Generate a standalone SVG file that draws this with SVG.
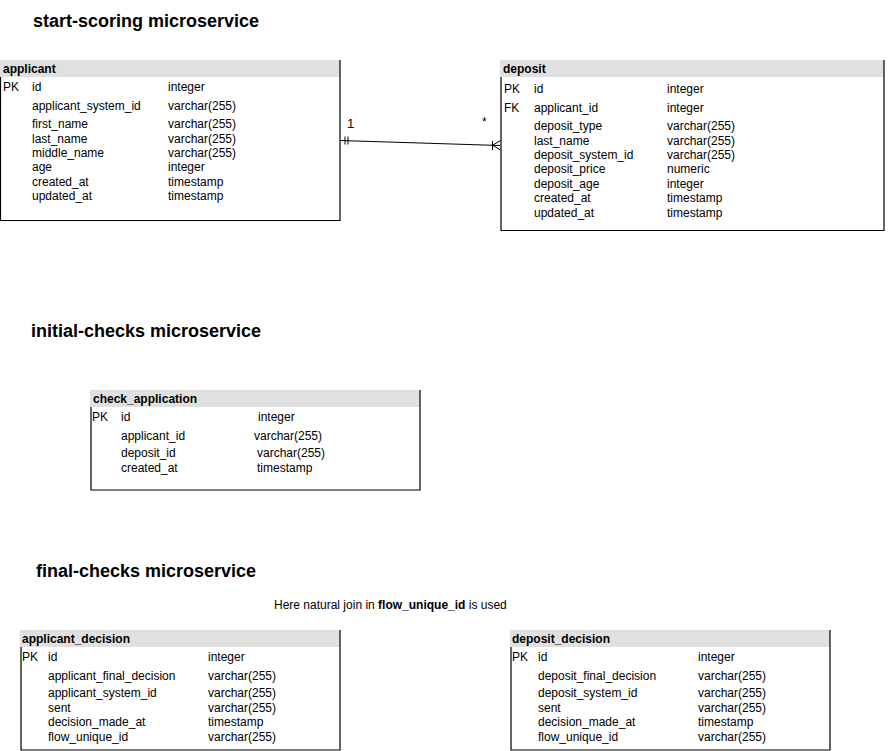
<svg xmlns="http://www.w3.org/2000/svg" width="891" height="751" viewBox="0 0 891 751">
<style>
text{font-family:"Liberation Sans",Arial,sans-serif;font-size:12px;fill:#000}
.t{font-weight:bold;font-size:18px}
.h{font-weight:bold}
.hd{fill:#e0e0e0;stroke:none}
.bd{fill:none;stroke:#000;stroke-width:1.2}
.ln{fill:none;stroke:#000;stroke-width:1}
</style>
<rect width="891" height="751" fill="#fff"/>
<text class="t" x="33" y="27">start-scoring microservice</text>
<text class="t" x="31" y="337">initial-checks microservice</text>
<text class="t" x="36" y="577">final-checks microservice</text>
<text x="274" y="609">Here natural join in <tspan class="h">flow_unique_id</tspan> is used</text>

<g id="applicant">
<rect class="hd" x="0" y="60" width="340" height="17"/>
<path class="bd" d="M0.5 77V220.5H340V60"/>
<text class="h" x="3" y="73">applicant</text>
<text x="3" y="91">PK</text><text x="32" y="91">id</text><text x="168" y="91">integer</text>
<text x="32" y="110">applicant_system_id</text><text x="168" y="110">varchar(255)</text>
<text x="32" y="128">first_name</text><text x="168" y="128">varchar(255)</text>
<text x="32" y="143">last_name</text><text x="168" y="143">varchar(255)</text>
<text x="32" y="157">middle_name</text><text x="168" y="157">varchar(255)</text>
<text x="32" y="171">age</text><text x="168" y="171">integer</text>
<text x="32" y="186">created_at</text><text x="168" y="186">timestamp</text>
<text x="32" y="200">updated_at</text><text x="168" y="200">timestamp</text>
</g>

<g id="deposit">
<rect class="hd" x="500" y="60" width="384" height="17"/>
<path class="bd" d="M501 77V230.5H884V60"/>
<text class="h" x="503" y="73">deposit</text>
<text x="504" y="93">PK</text><text x="534" y="93">id</text><text x="667" y="93">integer</text>
<text x="504" y="112">FK</text><text x="534" y="112">applicant_id</text><text x="667" y="112">integer</text>
<text x="534" y="130">deposit_type</text><text x="667" y="130">varchar(255)</text>
<text x="534" y="145">last_name</text><text x="667" y="145">varchar(255)</text>
<text x="534" y="159">deposit_system_id</text><text x="667" y="159">varchar(255)</text>
<text x="534" y="173">deposit_price</text><text x="667" y="173">numeric</text>
<text x="534" y="188">deposit_age</text><text x="667" y="188">integer</text>
<text x="534" y="202">created_at</text><text x="667" y="202">timestamp</text>
<text x="534" y="217">updated_at</text><text x="667" y="217">timestamp</text>
</g>

<g id="check_application">
<rect class="hd" x="90" y="390" width="330" height="17"/>
<path class="bd" d="M91 407V490H420V390"/>
<text class="h" x="93" y="403">check_application</text>
<text x="92" y="421">PK</text><text x="121" y="421">id</text><text x="258" y="421">integer</text>
<text x="121" y="440">applicant_id</text><text x="254" y="440">varchar(255)</text>
<text x="121" y="457">deposit_id</text><text x="257" y="457">varchar(255)</text>
<text x="121" y="472">created_at</text><text x="257" y="472">timestamp</text>
</g>

<g id="applicant_decision">
<rect class="hd" x="20" y="630" width="320" height="17"/>
<path class="bd" d="M21 647V750H340V630"/>
<text class="h" x="22" y="643">applicant_decision</text>
<text x="22" y="661">PK</text><text x="48" y="661">id</text><text x="208" y="661">integer</text>
<text x="48" y="680">applicant_final_decision</text><text x="208" y="680">varchar(255)</text>
<text x="48" y="697">applicant_system_id</text><text x="208" y="697">varchar(255)</text>
<text x="48" y="712">sent</text><text x="208" y="712">varchar(255)</text>
<text x="48" y="726">decision_made_at</text><text x="208" y="726">timestamp</text>
<text x="48" y="741">flow_unique_id</text><text x="208" y="741">varchar(255)</text>
</g>

<g id="deposit_decision">
<rect class="hd" x="510" y="630" width="320" height="17"/>
<path class="bd" d="M511 647V750H830V630"/>
<text class="h" x="512" y="643">deposit_decision</text>
<text x="512" y="661">PK</text><text x="538" y="661">id</text><text x="698" y="661">integer</text>
<text x="538" y="680">deposit_final_decision</text><text x="698" y="680">varchar(255)</text>
<text x="538" y="697">deposit_system_id</text><text x="698" y="697">varchar(255)</text>
<text x="538" y="712">sent</text><text x="698" y="712">varchar(255)</text>
<text x="538" y="726">decision_made_at</text><text x="698" y="726">timestamp</text>
<text x="538" y="741">flow_unique_id</text><text x="698" y="741">varchar(255)</text>
</g>

<g id="connectors">
<path class="ln" d="M340 140.5L500 145.5"/>
<path class="ln" d="M345 136.5V144.5M348 136.5V144.5"/>
<path class="ln" d="M492.5 141V150M492.5 145.2L500.5 140.5M492.5 145.2L500.5 150"/>
<text x="347" y="128" style="font-size:13px">1</text>
<text x="482" y="126">*</text>
</g>
</svg>
